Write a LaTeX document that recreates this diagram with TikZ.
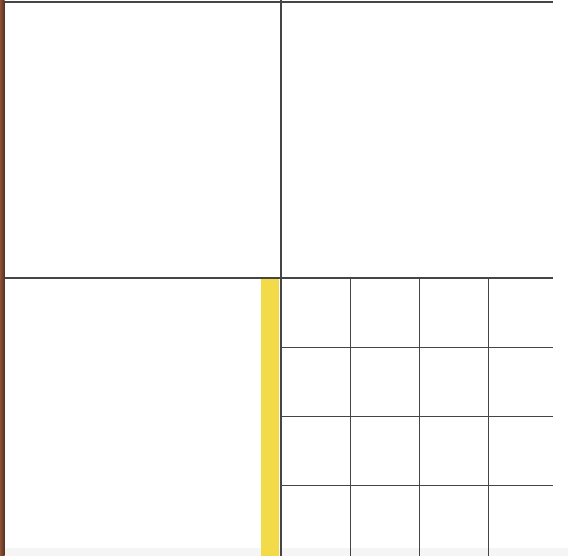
\documentclass[tikz,border=0pt]{standalone}
\definecolor{barYellow}{HTML}{F3DA48}
\definecolor{woodDark}{HTML}{5A2E1C}
\definecolor{woodMid}{HTML}{8A5236}
\definecolor{lineGray}{HTML}{454545}
\definecolor{bandGray}{HTML}{F5F5F5}
\begin{document}
\begin{tikzpicture}[x=1pt,y=-1pt,
  gridline/.style={draw=lineGray,line width=1.1pt},
  yellowbar/.style={fill=barYellow,draw=none}]
\useasboundingbox (0,0) rectangle (568,556);
\fill[white] (0,0) rectangle (568,556);
% bottom light band
\fill[bandGray] (4,548) rectangle (568,556);
% wood strip on left edge
\shade[left color=woodMid, right color=woodDark] (0,0) rectangle (4.5,556);
% yellow bar
\fill[yellowbar] (260.5,279) rectangle (279,556);
% main lines
\draw[gridline] (4.5,2) -- (553,2);
\draw[gridline] (4.5,278) -- (553,278);
\draw[gridline] (281,0) -- (281,556);
% grid in lower right
\foreach \xx in {350.5,419.5,488.5} \draw[gridline] (\xx,278) -- (\xx,556);
\foreach \yy in {347.5,416.5,485.5} \draw[gridline] (281,\yy) -- (553,\yy);
\end{tikzpicture}
\end{document}
